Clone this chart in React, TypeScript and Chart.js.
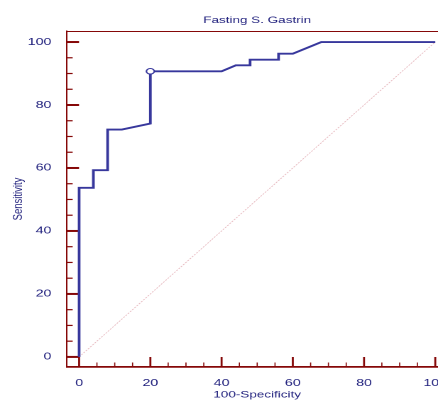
import { useEffect, useRef } from 'react';
import { Chart, registerables } from 'chart.js';

Chart.register(...registerables);

// ROC curve of fasting serum gastrin
const specComplement = [0, 0, 4, 4, 8, 8, 12, 20, 20, 40, 44, 48, 48, 56, 56, 60, 68, 100];
const sensitivity = [0, 53.7, 53.7, 59.3, 59.3, 72.2, 72.2, 74.1, 90.7, 90.7, 92.6, 92.6, 94.4, 94.4, 96.3, 96.3, 100, 100];
const diagonalX = [0, 100];
const diagonalY = [0, 100];
const cutoffX = [20];
const cutoffY = [90.7];
const tickValues = [0, 5, 10, 15, 20, 25, 30, 35, 40, 45, 50, 55, 60, 65, 70, 75, 80, 85, 90, 95, 100];
const labelStep = 20;

const TITLE = 'Fasting S. Gastrin';
const X_TITLE = '100-Specificity';
const Y_TITLE = 'Sensitivity';

const AXIS = '#850808';
const TEXT = '#22227e';
const CURVE = '#37379c';
const FONT = '"Liberation Sans", Arial, sans-serif';

const frameTicks = {
  id: 'frameTicks',
  beforeDatasetsDraw(chart: any) {
    const { ctx, chartArea: a, scales } = chart;
    const xs = scales.x;
    const ys = scales.y;
    ctx.save();
    ctx.strokeStyle = AXIS;
    ctx.lineWidth = 1;
    ctx.beginPath();
    ctx.moveTo(a.left, a.top + 0.5);
    ctx.lineTo(a.right, a.top + 0.5);
    ctx.lineTo(a.right, a.bottom);
    ctx.stroke();
    xs.ticks.forEach((t: any) => {
      const px = xs.getPixelForValue(t.value);
      const major = t.value % labelStep === 0;
      ctx.lineWidth = major ? 1.4 : 0.8;
      ctx.beginPath();
      ctx.moveTo(px, a.bottom);
      ctx.lineTo(px, a.bottom - (major ? 10 : 4.5));
      ctx.stroke();
    });
    ys.ticks.forEach((t: any) => {
      const py = ys.getPixelForValue(t.value);
      const major = t.value % labelStep === 0;
      ctx.lineWidth = major ? 2 : 1.2;
      ctx.beginPath();
      ctx.moveTo(a.left, py);
      ctx.lineTo(a.left + (major ? 8.45 : 4), py);
      ctx.stroke();
    });
    ctx.restore();
  },
};

export default function App() {
  const ref = useRef<HTMLCanvasElement>(null);
  useEffect(() => {
    const setTicks = (scale: any) => {
      scale.ticks = tickValues.map((v) => ({ value: v }));
    };
    const label = (v: any) => (Number(v) % labelStep === 0 ? String(v) : '');
    const chart = new Chart(ref.current!, {
      type: 'line',
      data: {
        datasets: [
          {
            data: diagonalX.map((x, i) => ({ x, y: diagonalY[i] })),
            borderColor: 'rgba(215,140,150,0.6)',
            borderWidth: 0.7,
            borderDash: [1.5, 1],
            pointRadius: 0,
            order: 3,
          },
          {
            data: specComplement.map((x, i) => ({ x, y: sensitivity[i] })),
            borderColor: CURVE,
            borderWidth: 1.9,
            pointRadius: 0,
            tension: 0,
            order: 2,
          },
          {
            data: cutoffX.map((x, i) => ({ x, y: cutoffY[i] })),
            showLine: false,
            pointRadius: 2.8,
            pointBackgroundColor: '#ffffff',
            pointBorderColor: CURVE,
            pointBorderWidth: 1.1,
            order: 1,
          },
        ],
      },
      options: {
        responsive: false,
        animation: false,
        devicePixelRatio: 2,
        layout: { padding: { left: 0, right: 8.9, top: 0, bottom: 0 } },
        plugins: {
          legend: { display: false },
          tooltip: { enabled: false },
          title: {
            display: true,
            text: TITLE,
            color: TEXT,
            fullSize: false,
            font: { family: FONT, size: 9.5, weight: 'normal' },
            padding: { top: 14.6, bottom: 5 },
          },
        },
        scales: {
          x: {
            type: 'linear',
            min: -3.4,
            max: 103.4,
            afterBuildTicks: setTicks,
            afterFit: (s: any) => {
              s.height = 35;
            },
            grid: { display: false },
            border: { display: true, color: AXIS, width: 1.8 },
            ticks: {
              autoSkip: false,
              maxRotation: 0,
              padding: 2,
              color: TEXT,
              font: { family: FONT, size: 10 },
              callback: label,
            },
            title: {
              display: true,
              text: X_TITLE,
              color: TEXT,
              font: { family: FONT, size: 9.5 },
              padding: { top: 0, bottom: 1.5 },
            },
          },
          y: {
            type: 'linear',
            min: -3.2,
            max: 103.5,
            afterBuildTicks: setTicks,
            afterFit: (s: any) => {
              s.width = 47.2;
            },
            grid: { display: false },
            border: { display: true, color: AXIS, width: 1 },
            ticks: {
              autoSkip: false,
              padding: 3,
              color: TEXT,
              font: { family: FONT, size: 10 },
              callback: label,
            },
            title: {
              display: true,
              text: Y_TITLE,
              color: TEXT,
              font: { family: FONT, size: 9.5 },
              padding: { top: 7, bottom: 0 },
            },
          },
        },
      },
      plugins: [frameTicks],
    } as any);
    return () => chart.destroy();
  }, []);
  return (
    <div
      style={{
        position: 'fixed',
        left: 0,
        top: 0,
        width: 438,
        height: 402,
        overflow: 'hidden',
        background: '#ffffff',
      }}
    >
      <canvas
        ref={ref}
        width={324}
        height={402}
        style={{ width: '460px', height: '402px', display: 'block' }}
      />
    </div>
  );
}
